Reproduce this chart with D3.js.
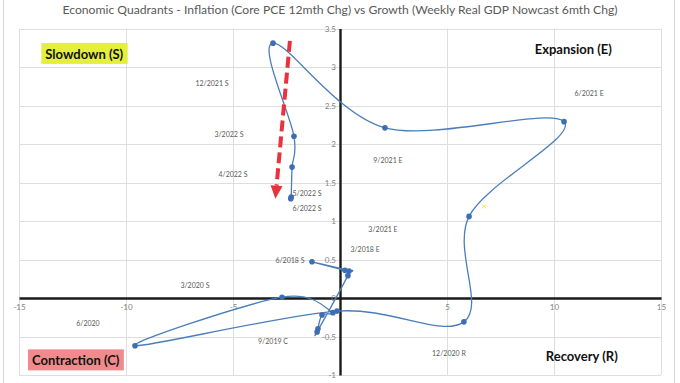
<!DOCTYPE html>
<html>
<head>
<meta charset="utf-8">
<script src="https://cdn.jsdelivr.net/npm/d3@7"></script>
<style>
  html, body { margin: 0; padding: 0; background: #ffffff; }
  svg { display: block; }
</style>
</head>
<body>
<svg id="chart" width="680" height="383"></svg>
<script>
// ---------------- DATA ----------------
const titleText = "Economic Quadrants - Inflation (Core PCE 12mth Chg) vs Growth (Weekly Real GDP Nowcast 6mth Chg)";

// Series (in time order): growth (x) vs inflation (y)
const periods = ["3/2018","6/2018","9/2018","12/2018","3/2019","6/2019","9/2019","12/2019",
                 "3/2020","6/2020","9/2020","12/2020","3/2021","6/2021","9/2021","12/2021",
                 "3/2022","4/2022","5/2022","6/2022"];
const growth = [0.23, -1.31, 0.42, 0.37, -1.07, -1.03, -0.84, -0.33,
                -2.71, -9.58, -0.14, 5.79, 6.03, 10.47, 2.10, -3.13,
                -2.15, -2.24, -2.28, -2.30];
const inflation = [0.36, 0.47, 0.35, 0.29, -0.44, -0.40, -0.22, -0.19,
                   0.01, -0.62, -0.17, -0.31, 1.06, 2.29, 2.21, 3.31,
                   2.10, 1.70, 1.31, 1.29];

// Data labels (text and where they sit, in data units)
const labelText = ["12/2021 S","3/2022 S","4/2022 S","5/2022 S","6/2022 S","6/2018 S","3/2018 E",
                   "3/2021 E","9/2021 E","6/2021 E","3/2020 S","6/2020","9/2019 C","12/2020 R"];
const labelX = [-5.98, -5.19, -5.0, -1.54, -1.54, -2.34, 1.17, 2.01, 2.24, 11.64, -6.78, -11.78, -3.13, 5.09];
const labelY = [2.79, 2.13, 1.61, 1.36, 1.17, 0.49, 0.64, 0.90, 1.79, 2.66, 0.17, -0.32, -0.56, -0.71];

// Axis ticks
const xTicks = [-15, -10, -5, 0, 5, 10, 15];
const xTickLabels = ["-15", "-10", "-5", "", "5", "10", "15"];
const yTicks = [-1, -0.5, 0, 0.5, 1, 1.5, 2, 2.5, 3, 3.5];
const yTickLabels = ["-1", "-0.5", "0", "0.5", "1", "1.5", "2", "2.5", "3", "3.5"];

// Quadrant names
const quadrantNames = ["Slowdown (S)", "Expansion (E)", "Contraction (C)", "Recovery (R)"];
const quadrantX = [-11.95, 10.9, -12.35, 11.3];
const quadrantY = [3.17, 3.24, -0.81, -0.75];
const quadrantFill = ["#e3ef3a", null, "#f08a8c", null];

// Annotation arrow (trend) start/end in data units
const arrowFrom = [-2.34, 3.34];
const arrowTo = [-3.02, 1.29];
// small stray marker
const strayMark = [6.73, 1.19];

// ---------------- CHART ----------------
const svg = d3.select("#chart");
const W = 680, H = 383;
const x = d3.scaleLinear().domain([-15, 15]).range([19, 661]);
const y = d3.scaleLinear().domain([-1, 3.5]).range([375, 28.5]);
const FONT = "Lato, 'Open Sans', 'Liberation Sans', sans-serif";

// outer chart border
svg.append("rect").attr("x", 3.5).attr("y", -2).attr("width", 671).attr("height", H + 4)
  .attr("fill", "#ffffff").attr("stroke", "#d6d6d6").attr("stroke-width", 1);

// title
svg.append("text").attr("x", 340).attr("y", 14)
  .attr("text-anchor", "middle")
  .attr("font-family", FONT).attr("font-size", 11.5).attr("fill", "#595959")
  .attr("textLength", 555).attr("lengthAdjust", "spacingAndGlyphs")
  .text(titleText);

// gridlines
const grid = svg.append("g").attr("stroke", "#dedede").attr("stroke-width", 1);
grid.selectAll("line.v").data(xTicks.filter(d => d !== 0)).join("line")
  .attr("x1", d => Math.round(x(d)) + 0.5).attr("x2", d => Math.round(x(d)) + 0.5)
  .attr("y1", y(3.5)).attr("y2", y(-1));
grid.selectAll("line.h").data(yTicks.filter(d => d !== 0)).join("line")
  .attr("y1", d => Math.round(y(d)) + 0.5).attr("y2", d => Math.round(y(d)) + 0.5)
  .attr("x1", x(-15)).attr("x2", x(15));

// axes through origin (use d3 axes for tick labels)
const xAxis = d3.axisBottom(x).tickValues(xTicks).tickSize(0).tickPadding(6)
  .tickFormat((d, i) => xTickLabels[i]);
const gx = svg.append("g").attr("transform", `translate(0,${y(0)})`).call(xAxis);
gx.select(".domain").attr("stroke", "#1a1a1a").attr("stroke-width", 2.6);
gx.selectAll("text").attr("font-family", FONT).attr("font-size", 8).attr("fill", "#7f7f7f");

const yAxis = d3.axisLeft(y).tickValues(yTicks).tickSize(0).tickPadding(4)
  .tickFormat((d, i) => yTickLabels[i]);
const gy = svg.append("g").attr("transform", `translate(${x(0)},0)`).call(yAxis);
gy.select(".domain").attr("stroke", "#1a1a1a").attr("stroke-width", 2.4);
gy.selectAll("text").attr("font-family", FONT).attr("font-size", 8).attr("fill", "#7f7f7f");

// quadrant labels
const qg = svg.append("g");
quadrantNames.forEach((name, i) => {
  const t = qg.append("text").attr("x", x(quadrantX[i])).attr("y", y(quadrantY[i]))
    .attr("text-anchor", "middle").attr("dominant-baseline", "central")
    .attr("font-family", FONT).attr("font-weight", "bold").attr("font-size", 13)
    .attr("fill", "#111111").text(name);
  if (quadrantFill[i]) {
    const bb = t.node().getBBox();
    qg.insert("rect", "text").attr("x", bb.x - 4).attr("y", bb.y - 3)
      .attr("width", bb.width + 8).attr("height", bb.height + 5)
      .attr("fill", quadrantFill[i]);
  }
});

// data labels
svg.append("g").selectAll("text").data(labelText).join("text")
  .attr("x", (d, i) => x(labelX[i])).attr("y", (d, i) => y(labelY[i]))
  .attr("text-anchor", "middle").attr("dominant-baseline", "central")
  .attr("font-family", FONT).attr("font-size", 7).attr("fill", "#595959")
  .text(d => d);

// series line (Excel-like smoothing = uniform Catmull-Rom)
const pts = periods.map((p, i) => [growth[i], inflation[i]]);
const line = d3.line().x(d => x(d[0])).y(d => y(d[1])).curve(d3.curveCatmullRom.alpha(0));
svg.append("path").datum(pts).attr("d", line)
  .attr("fill", "none").attr("stroke", "#4a7ebb").attr("stroke-width", 1.3);

svg.append("g").selectAll("circle").data(pts).join("circle")
  .attr("cx", d => x(d[0])).attr("cy", d => y(d[1])).attr("r", 2.8)
  .attr("fill", "#3d6eb2");

// stray small yellow mark
svg.append("path")
  .attr("d", `M${x(strayMark[0]) - 2},${y(strayMark[1]) - 2}L${x(strayMark[0]) + 2},${y(strayMark[1]) + 2}M${x(strayMark[0]) + 2},${y(strayMark[1]) - 2}L${x(strayMark[0]) - 2},${y(strayMark[1]) + 2}`)
  .attr("stroke", "#e6e84a").attr("stroke-width", 1);

// red dashed trend arrow
const ax0 = x(arrowFrom[0]), ay0 = y(arrowFrom[1]);
const ax1 = x(arrowTo[0]), ay1 = y(arrowTo[1]);
const ang = Math.atan2(ay1 - ay0, ax1 - ax0);
const headLen = 13, headHalf = 6;
const bx = ax1 - headLen * Math.cos(ang), by = ay1 - headLen * Math.sin(ang);
svg.append("line").attr("x1", ax0).attr("y1", ay0).attr("x2", bx).attr("y2", by)
  .attr("stroke", "#e8323c").attr("stroke-width", 4).attr("stroke-dasharray", "11,5");
const px = -Math.sin(ang), py = Math.cos(ang);
svg.append("path")
  .attr("d", `M${ax1},${ay1}L${bx + px * headHalf},${by + py * headHalf}L${bx - px * headHalf},${by - py * headHalf}Z`)
  .attr("fill", "#e8323c");
</script>
</body>
</html>
